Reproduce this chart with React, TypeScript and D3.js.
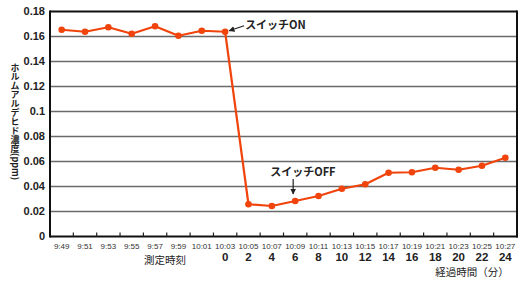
import React from "react";
import * as d3 from "d3";

const times = ["9:49","9:51","9:53","9:55","9:57","9:59","10:01","10:03","10:05","10:07","10:09","10:11","10:13","10:15","10:17","10:19","10:21","10:23","10:25","10:27"];
const elapsed = ["","","","","","","","0","2","4","6","8","10","12","14","16","18","20","22","24"];
const values = [0.1654,0.1638,0.1674,0.1622,0.1682,0.1606,0.1646,0.1638,0.0258,0.0244,0.0284,0.0324,0.0382,0.0418,0.051,0.0514,0.055,0.0534,0.0566,0.063];
const yTicks = [0,0.02,0.04,0.06,0.08,0.1,0.12,0.14,0.16,0.18];
const yTickLabels = ["0","0.02","0.04","0.06","0.08","0.1","0.12","0.14","0.16","0.18"];
const yTitle = "ホルムアルデヒド濃度(ppm)";

const W = 529, H = 283;
const L = 50, R = 517, T = 11.5, B = 236.5;
const FONT = "'Liberation Sans', Arial, sans-serif";
const JFONT = "'Noto Sans CJK JP', sans-serif";

export default function App() {
  const x = d3.scaleBand<string>().domain(times).range([L, R]).padding(0);
  const y = d3.scaleLinear().domain([0, 0.18]).range([B, T]);
  const cx = (i: number) => (x(times[i]) as number) + x.bandwidth() / 2;
  const line = d3.line<number>().x((_, i) => cx(i)).y(d => y(d));
  const color = "#f0440c";
  const onX = cx(7), onY = y(values[7]);
  const offX = cx(10);
  return (
    <svg width={W} height={H} style={{ position: "absolute", left: 0, top: 0, background: "#fff" }}>
      <defs>
        <marker id="ah" viewBox="0 0 10 10" refX="9" refY="5" markerWidth="5" markerHeight="5" orient="auto-start-reverse">
          <path d="M0,0 L10,5 L0,10 z" fill="#222" />
        </marker>
      </defs>
      {yTicks.map((t, i) => (
        <g key={i}>
          {t > 0 && t < 0.18 && (
            <line x1={L} x2={R} y1={y(t)} y2={y(t)} stroke="#6a6a6a" strokeWidth={1.5} />
          )}
          <text x={45} y={y(t)} dy="0.35em" textAnchor="end" fontFamily={FONT} fontSize={11} fontWeight="bold" fill="#222">{yTickLabels[i]}</text>
        </g>
      ))}
      <line x1={L} x2={R} y1={T} y2={T} stroke="#111" strokeWidth={2} />
      <line x1={R} x2={R} y1={T - 1} y2={B + 1} stroke="#111" strokeWidth={2} />
      <line x1={L} x2={L} y1={T - 1} y2={B + 1} stroke="#111" strokeWidth={2} />
      <line x1={L} x2={R + 1} y1={B} y2={B} stroke="#111" strokeWidth={2} />
      {times.slice(1).map((t, i) => (
        <line key={i} x1={x(t)} x2={x(t)} y1={B} y2={B - 4} stroke="#222" strokeWidth={1.2} />
      ))}
      {times.map((t, i) => (
        <text key={i} x={cx(i)} y={249} textAnchor="middle" fontFamily={FONT} fontSize={8} fill="#333">{t}</text>
      ))}
      {elapsed.map((t, i) => t && (
        <text key={i} x={cx(i)} y={261} textAnchor="middle" fontFamily={FONT} fontSize={11.5} fontWeight="bold" fill="#222">{t}</text>
      ))}
      <text x={165} y={263.5} textAnchor="middle" fontFamily={JFONT} fontSize={10.5} fill="#222">測定時刻</text>
      <text x={472} y={276} textAnchor="middle" fontFamily={JFONT} fontSize={10.5} fill="#222">経過時間（分）</text>
      <text x={15} y={63} fontFamily={JFONT} fontSize={9} fontWeight="bold" fill="#222"
        style={{ writingMode: "vertical-rl", textOrientation: "mixed" } as any}>{yTitle}</text>
      <path d={line(values) || ""} fill="none" stroke={color} strokeWidth={2.2} strokeLinejoin="round" />
      {values.map((v, i) => (
        <circle key={i} cx={cx(i)} cy={y(v)} r={3.3} fill={color} />
      ))}
      <line x1={onX + 19} y1={onY - 6} x2={onX + 4} y2={onY - 1} stroke="#222" strokeWidth={1.2} markerEnd="url(#ah)" />
      <text x={onX + 20} y={onY - 3} fontFamily={JFONT} fontSize={11} fontWeight="bold" fill="#222">スイッチON</text>
      <text x={offX - 25} y={176} fontFamily={JFONT} fontSize={11} fontWeight="bold" fill="#222">スイッチOFF</text>
      <line x1={offX - 2} y1={179} x2={offX - 2} y2={194} stroke="#222" strokeWidth={1.2} markerEnd="url(#ah)" />
    </svg>
  );
}
